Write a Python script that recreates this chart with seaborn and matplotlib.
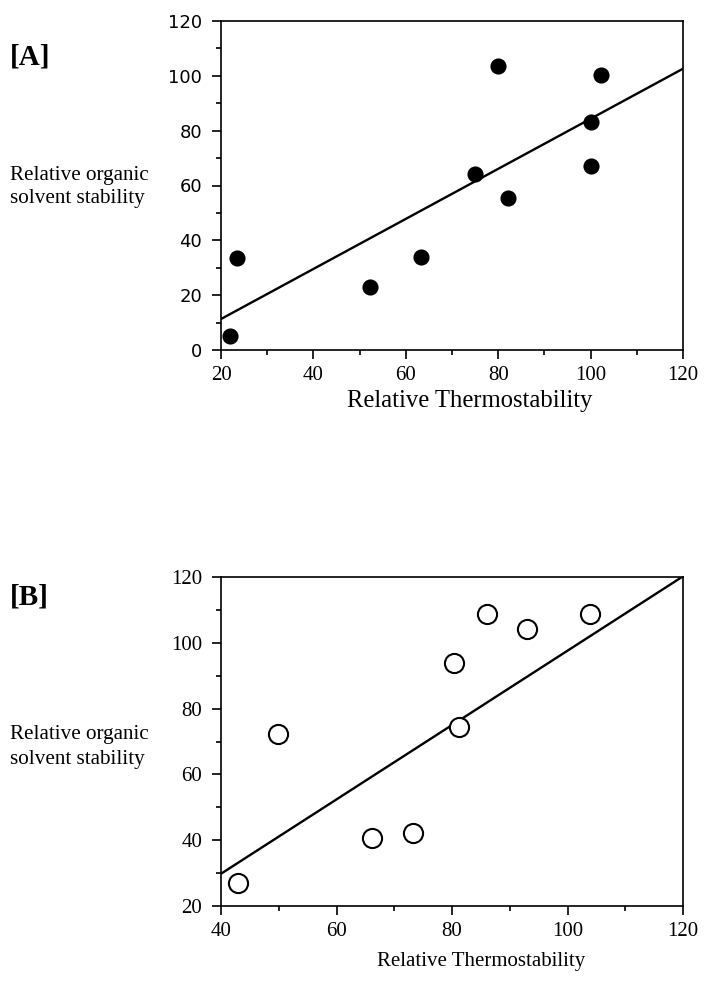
import matplotlib
matplotlib.use('Agg')
import matplotlib.pyplot as plt
import seaborn as sns
from matplotlib.ticker import MultipleLocator

# ---- data ----
thermo_a = [21.9, 23.4, 52.2, 63.3, 74.9, 80.0, 82.2, 100.0, 100.0, 102.2]
solvent_a = [5.2, 33.4, 23.1, 34.0, 64.1, 103.5, 55.4, 83.2, 67.2, 100.3]
fit_a_x = [20, 120]
fit_a_y = [11.3, 102.6]

thermo_b = [43.0, 49.9, 66.2, 73.2, 80.3, 81.2, 86.1, 93.0, 103.9]
solvent_b = [27.1, 72.2, 40.8, 42.2, 93.8, 74.3, 108.8, 104.2, 108.8]
fit_b_x = [40, 120]
fit_b_y = [29.8, 120.2]

xticks_a = [20, 40, 60, 80, 100, 120]
yticks_a = [0, 20, 40, 60, 80, 100, 120]
xticks_b = [40, 60, 80, 100, 120]
yticks_b = [20, 40, 60, 80, 100, 120]

panel_labels = ["[A]", "[B]"]
xlabel = "Relative Thermostability"
ylabel_lines = ["Relative organic", "solvent stability"]

sns.set_style("ticks")
SERIF = "Liberation Serif"
SANS = "DejaVu Sans"
plt.rcParams["font.family"] = [SERIF, "DejaVu Serif"]
for k in ["text.color", "axes.labelcolor", "xtick.color", "ytick.color", "axes.edgecolor"]:
    plt.rcParams[k] = "black"

W, H = 712, 982
fig = plt.figure(figsize=(W / 100, H / 100), dpi=100)


def fx(px):
    return px / W


def fy(py):
    return 1 - py / H


def style_axes(ax, xticks, yticks, ytick_family, xtick_size, ytick_size):
    for s in ax.spines.values():
        s.set_visible(True)
        s.set_linewidth(1.2)
        s.set_color("black")
    ax.set_xticks(xticks, labels=[str(v) for v in xticks], fontfamily=SERIF, fontsize=xtick_size)
    ax.set_yticks(yticks, labels=[str(v) for v in yticks], fontfamily=ytick_family, fontsize=ytick_size)
    ax.xaxis.set_minor_locator(MultipleLocator(10))
    ax.yaxis.set_minor_locator(MultipleLocator(10))
    ax.tick_params(which="major", direction="out", length=6.5, width=1.2, color="black",
                   labelcolor="black", pad=5)
    ax.tick_params(which="minor", direction="out", length=3.5, width=1.2, color="black")
    ax.tick_params(axis="y", which="major", pad=7)
    ax.tick_params(top=False, right=False, which="both")
    ax.set_xlabel("")
    ax.set_ylabel("")


# ---- panel A ----
axA = fig.add_axes([fx(221), fy(350), 462 / W, 329 / H])
axA.set_xlim(20, 120)
axA.set_ylim(0, 120)
sns.lineplot(x=fit_a_x, y=fit_a_y, color="black", linewidth=1.7, ax=axA, zorder=2)
sns.scatterplot(x=thermo_a, y=solvent_a, color="black", s=135, linewidth=0, ax=axA, zorder=3)
style_axes(axA, xticks_a, yticks_a, SANS, 15, 13)

# ---- panel B ----
axB = fig.add_axes([fx(221), fy(906), 462 / W, 329 / H])
axB.set_xlim(40, 120)
axB.set_ylim(20, 120)
sns.lineplot(x=fit_b_x, y=fit_b_y, color="black", linewidth=1.7, ax=axB, zorder=2)
sns.scatterplot(x=thermo_b, y=solvent_b, color="white", edgecolor="black", s=190,
                linewidth=1.5, ax=axB, zorder=3)
style_axes(axB, xticks_b, yticks_b, SERIF, 15, 15)

# ---- text ----
fig.text(fx(10), fy(65), panel_labels[0], fontsize=21, fontweight="bold", va="baseline", ha="left")
fig.text(fx(10), fy(604), panel_labels[1], fontsize=21, fontweight="bold", va="baseline", ha="left")

fig.text(fx(470), fy(407), xlabel, fontsize=17.7, ha="center", va="baseline")
fig.text(fx(481), fy(966), xlabel, fontsize=15, ha="center", va="baseline")

fig.text(fx(10), fy(180), ylabel_lines[0], fontsize=15.2, ha="left", va="baseline")
fig.text(fx(10), fy(203), ylabel_lines[1], fontsize=15.2, ha="left", va="baseline")
fig.text(fx(10), fy(739), ylabel_lines[0], fontsize=15.2, ha="left", va="baseline")
fig.text(fx(10), fy(764), ylabel_lines[1], fontsize=15.2, ha="left", va="baseline")

fig.savefig("out.png", dpi=100)
